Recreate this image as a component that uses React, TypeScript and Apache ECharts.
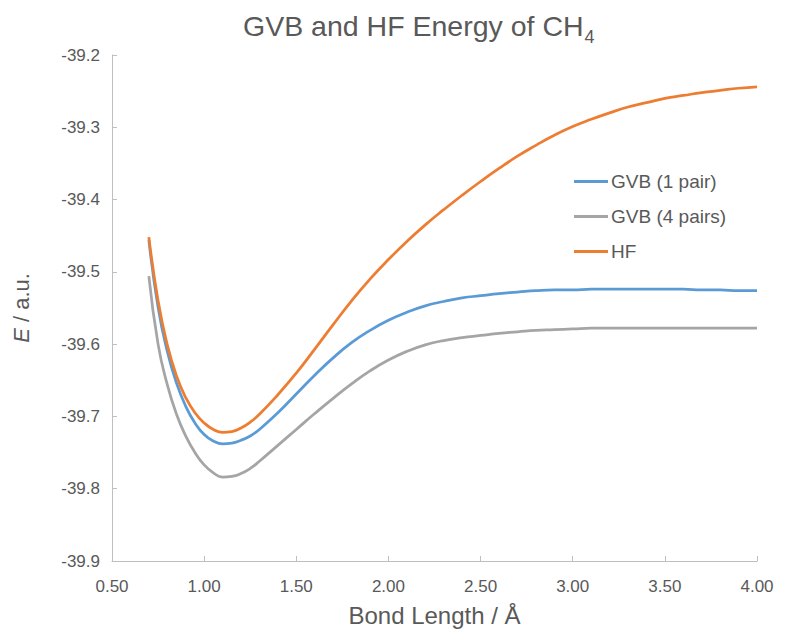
import React, { useEffect, useRef } from "react";
import * as echarts from "echarts";

const bondLengths = [
  0.70, 0.75, 0.80, 0.85, 0.90, 0.95, 1.00, 1.05, 1.10, 1.15, 1.20, 1.25, 1.30,
  1.40, 1.50, 1.60, 1.70, 1.80, 1.90, 2.00, 2.10, 2.20, 2.30, 2.40, 2.50, 2.60, 2.70, 2.80, 2.90, 3.00,
  3.10, 3.20, 3.30, 3.40, 3.50, 3.60, 3.70, 3.80, 3.90, 4.00,
];

const gvb1 = [
  -39.456, -39.549, -39.610, -39.654, -39.686, -39.709, -39.725, -39.734, -39.738, -39.737, -39.733, -39.727, -39.718,
  -39.695, -39.669, -39.643, -39.619, -39.598, -39.581, -39.567, -39.556, -39.547, -39.541, -39.536, -39.533, -39.530, -39.528, -39.526, -39.525, -39.525,
  -39.524, -39.524, -39.524, -39.524, -39.524, -39.524, -39.525, -39.525, -39.526, -39.526,
];

const gvb4 = [
  -39.506, -39.600, -39.656, -39.697, -39.727, -39.750, -39.767, -39.778, -39.784, -39.783, -39.779, -39.772, -39.762,
  -39.740, -39.718, -39.696, -39.675, -39.655, -39.637, -39.622, -39.610, -39.601, -39.595, -39.591, -39.588, -39.585, -39.583, -39.581, -39.580, -39.579,
  -39.578, -39.578, -39.578, -39.578, -39.578, -39.578, -39.578, -39.578, -39.578, -39.578,
];

const hf = [
  -39.452, -39.540, -39.601, -39.644, -39.674, -39.695, -39.709, -39.718, -39.722, -39.721, -39.716, -39.708, -39.697,
  -39.670, -39.640, -39.607, -39.573, -39.540, -39.510, -39.483, -39.458, -39.435, -39.414, -39.394, -39.375, -39.357, -39.340, -39.325, -39.311, -39.299,
  -39.289, -39.280, -39.272, -39.266, -39.260, -39.256, -39.252, -39.249, -39.246, -39.244,
];

const seriesNames = ["GVB (1 pair)", "GVB (4 pairs)", "HF"];
const seriesColors = ["#5B9BD5", "#A5A5A5", "#ED7D31"];

const FONT = "'Liberation Sans', Arial, sans-serif";
const TEXT = "#595959";
const AXIS = "#BFBFBF";

export default function App() {
  const ref = useRef<HTMLDivElement>(null);
  useEffect(() => {
    document.body.style.margin = "0";
    const chart = echarts.init(ref.current!, undefined, { renderer: "svg" });
    const values = [gvb1, gvb4, hf];
    chart.setOption({
      animation: false,
      title: {
        text: "{a|GVB and HF Energy of CH}{s|4}",
        left: 243,
        top: 6,
        padding: 0,
        textStyle: {
          rich: {
            a: { fontFamily: FONT, fontSize: 28.5, fontWeight: "normal", color: TEXT, lineHeight: 34, verticalAlign: "bottom" },
            s: { fontFamily: FONT, fontSize: 18, fontWeight: "normal", color: TEXT, lineHeight: 34, verticalAlign: "bottom", padding: [0, 0, -6, 1] },
          },
        },
      },
      grid: { left: 112, right: 31, top: 55, bottom: 66 },
      legend: {
        orient: "vertical",
        left: 574,
        top: 172,
        padding: 0,
        itemWidth: 34,
        itemHeight: 3,
        itemGap: 16,
        icon: "rect",
        data: seriesNames,
        textStyle: { fontFamily: FONT, fontSize: 19, color: TEXT, lineHeight: 19, padding: [0, 0, 0, -2] },
      },
      xAxis: {
        type: "value",
        min: 0.5,
        max: 4,
        interval: 0.5,
        name: "Bond Length / Å",
        nameLocation: "middle",
        nameGap: 42,
        nameTextStyle: { fontFamily: FONT, fontSize: 24, color: TEXT },
        axisLine: { lineStyle: { color: AXIS, width: 1 } },
        axisTick: { show: true, inside: true, length: 5, lineStyle: { color: AXIS } },
        axisLabel: { fontFamily: FONT, fontSize: 17, color: TEXT, margin: 17, formatter: (v: number) => v.toFixed(2) },
        splitLine: { show: false },
      },
      yAxis: {
        type: "value",
        min: -39.9,
        max: -39.2,
        interval: 0.1,
        name: "{i|E} / a.u.",
        nameLocation: "middle",
        nameGap: 80,
        nameTextStyle: {
          fontFamily: FONT,
          fontSize: 22,
          color: TEXT,
          rich: { i: { fontFamily: FONT, fontSize: 22, color: TEXT, fontStyle: "italic" } },
        },
        axisLine: { show: true, lineStyle: { color: AXIS, width: 1 } },
        axisTick: { show: true, inside: true, length: 5, lineStyle: { color: AXIS } },
        axisLabel: { fontFamily: FONT, fontSize: 17, color: TEXT, margin: 12, formatter: (v: number) => v.toFixed(1) },
        splitLine: { show: false },
      },
      series: seriesNames.map((name, k) => ({
        name,
        type: "line",
        smooth: true,
        showSymbol: false,
        symbol: "none",
        color: seriesColors[k],
        lineStyle: { color: seriesColors[k], width: 2.75 },
        data: bondLengths.map((x, i) => [x, values[k][i]]),
      })),
    });
    return () => chart.dispose();
  }, []);
  return <div ref={ref} style={{ width: 788, height: 632 }} />;
}
